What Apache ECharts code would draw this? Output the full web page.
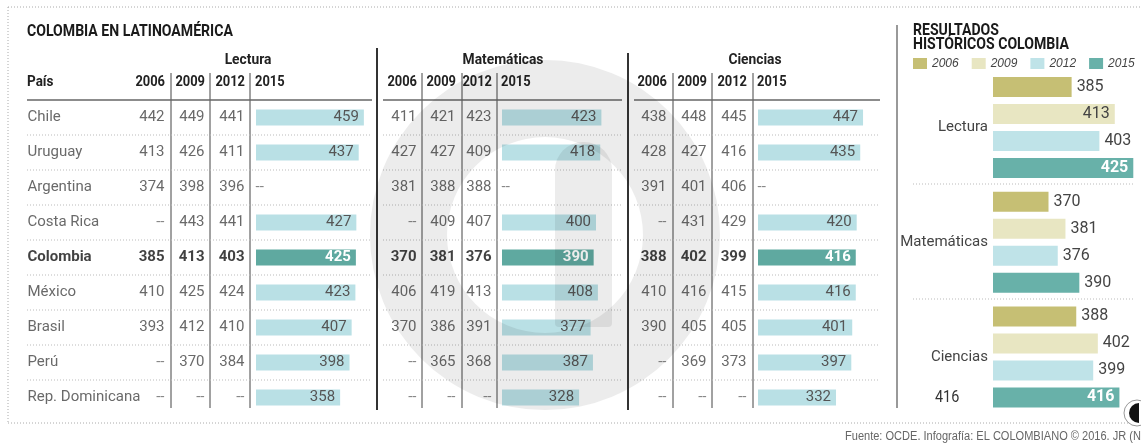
<!DOCTYPE html>
<html>
<head>
<meta charset="utf-8">
<title>Colombia en Latinoamérica - PISA</title>
<script src="https://cdn.jsdelivr.net/npm/echarts@6/dist/echarts.min.js"></script>
<style>
  html, body { margin: 0; padding: 0; background: #fff; }
  #myChart { width: 1141px; height: 443px; }
</style>
</head>
<body>
<div id="myChart"></div>
<script>
// datos de la tabla (-- = sin dato)
var paises = ["Chile", "Uruguay", "Argentina", "Costa Rica", "Colombia", "México", "Brasil", "Perú", "Rep. Dominicana"];
var anios = ["2006", "2009", "2012", "2015"];
var materias = ["Lectura", "Matemáticas", "Ciencias"];

var lectura2006 = [442, 413, 374, null, 385, 410, 393, null, null];
var lectura2009 = [449, 426, 398, 443, 413, 425, 412, 370, null];
var lectura2012 = [441, 411, 396, 441, 403, 424, 410, 384, null];
var lectura2015 = [459, 437, null, 427, 425, 423, 407, 398, 358];

var mate2006 = [411, 427, 381, null, 370, 406, 370, null, null];
var mate2009 = [421, 427, 388, 409, 381, 419, 386, 365, null];
var mate2012 = [423, 409, 388, 407, 376, 413, 391, 368, null];
var mate2015 = [423, 418, null, 400, 390, 408, 377, 387, 328];

var ciencias2006 = [438, 428, 391, null, 388, 410, 390, null, null];
var ciencias2009 = [448, 427, 401, 431, 402, 416, 405, 369, null];
var ciencias2012 = [445, 416, 406, 429, 399, 415, 405, 373, null];
var ciencias2015 = [447, 435, null, 420, 416, 416, 401, 397, 332];

// resultados históricos Colombia (Lectura, Matemáticas, Ciencias)
var colombia2006 = [385, 370, 388];
var colombia2009 = [413, 381, 402];
var colombia2012 = [403, 376, 399];
var colombia2015 = [425, 390, 416];

// estilos y posiciones
var fNarrow = 'Roboto, "Liberation Sans", sans-serif';
var fSans = '"Liberation Sans", Arial, sans-serif';
var coloresAnio = ["#c6bf74", "#e8e6c2", "#bfe3e8", "#68b1a9"];
var colorBarra = "#b9e0e5";
var colorColombia = "#5fa9a0";
var idxCol = paises.indexOf("Colombia");
var tablaTop = 100, filaAlto = 35;

var secciones = [
  { titulo: "Lectura", datos: [lectura2006, lectura2009, lectura2012, lectura2015],
    centro: 248, colDer: [165, 205, 245], divs: [171, 210, 250], barra: 256, x1: 27, x2: 372 },
  { titulo: "Matemáticas", datos: [mate2006, mate2009, mate2012, mate2015],
    centro: 503, colDer: [417, 456, 492], divs: [422, 462, 497], barra: 502, x1: 383, x2: 622 },
  { titulo: "Ciencias", datos: [ciencias2006, ciencias2009, ciencias2012, ciencias2015],
    centro: 755, colDer: [667, 707, 747], divs: [673, 712, 753], barra: 758, x1: 634, x2: 880 }
];

var myChart = echarts.init(document.getElementById("myChart"));

var grids = [{ left: 0, top: tablaTop, width: 1141, height: filaAlto * paises.length }];
var xAxes = [{ gridIndex: 0, type: "value", min: 0, max: 1141, show: false }];
var yAxes = [{ gridIndex: 0, type: "category", data: paises, inverse: true, show: false }];
var series = [];
var graphic = [];

function linea(x1, y1, x2, y2, color, ancho, dash) {
  graphic.push({
    type: "line", silent: true,
    shape: { x1: x1, y1: y1, x2: x2, y2: y2 },
    style: { stroke: color, lineWidth: ancho, lineDash: dash || null }
  });
}
// texto con compresión horizontal (sx) para imitar la letra condensada
function texto(t, x, y, font, color, align, sx) {
  graphic.push({
    type: "text", silent: true, x: x, y: y, scaleX: sx || 1,
    style: { text: t, x: 0, y: 0, font: font, fill: color, align: align || "left", verticalAlign: "middle" }
  });
}
var fTitulo = "bold 16px " + fNarrow;
var fCab = "bold 15px " + fNarrow;

// nombres de países
series.push({
  type: "scatter", xAxisIndex: 0, yAxisIndex: 0, symbolSize: 1, silent: true,
  itemStyle: { color: "transparent" },
  label: { show: true, position: "right", distance: 0, fontFamily: fNarrow, fontSize: 15,
    formatter: function (p) { return p.data.texto; } },
  data: paises.map(function (p, i) {
    return { value: [27, i], texto: p,
      label: { color: i === idxCol ? "#111" : "#444", fontWeight: i === idxCol ? "bold" : "normal" } };
  })
});

secciones.forEach(function (s, n) {
  // columnas 2006, 2009, 2012
  for (var c = 0; c < 3; c++) {
    series.push({
      type: "scatter", xAxisIndex: 0, yAxisIndex: 0, symbolSize: 1, silent: true,
      itemStyle: { color: "transparent" },
      label: { show: true, position: "left", distance: 0, fontFamily: fNarrow, fontSize: 15,
        formatter: function (p) { return p.data.texto; } },
      data: s.datos[c].map(function (v, i) {
        return { value: [s.colDer[c], i], texto: v == null ? "--" : String(v),
          label: { color: i === idxCol ? "#111" : (v == null ? "#666" : "#444"),
            fontWeight: i === idxCol ? "bold" : "normal" } };
      })
    });
  }
  // "--" en 2015
  series.push({
    type: "scatter", xAxisIndex: 0, yAxisIndex: 0, symbolSize: 1, silent: true,
    itemStyle: { color: "transparent" },
    label: { show: true, position: "right", distance: 0, fontFamily: fNarrow, fontSize: 15, color: "#666",
      formatter: "--" },
    data: s.datos[3].map(function (v, i) { return v == null ? [s.barra - 1, i] : null; })
      .filter(function (d) { return d; })
  });
  // barras 2015
  grids.push({ left: s.barra, top: tablaTop, width: 117.5, height: filaAlto * paises.length });
  xAxes.push({ gridIndex: n + 1, type: "value", min: 0, max: 500, show: false });
  yAxes.push({ gridIndex: n + 1, type: "category", data: paises, inverse: true, show: false });
  series.push({
    type: "bar", xAxisIndex: n + 1, yAxisIndex: n + 1, barWidth: 16, silent: true,
    itemStyle: { color: colorBarra },
    label: { show: true, position: "insideRight", distance: 5, fontFamily: fNarrow, fontSize: 15, color: "#555" },
    data: s.datos[3].map(function (v, i) {
      if (i !== idxCol) return v;
      return { value: v, itemStyle: { color: colorColombia }, label: { color: "#fff", fontWeight: "bold" } };
    })
  });

  // cabeceras y líneas
  texto(s.titulo, s.centro, 60, fCab, "#222", "center", 0.92);
  anios.forEach(function (a, k) {
    if (k < 3) texto(a, s.colDer[k], 82, fCab, "#222", "right", 0.86);
    else texto(a, s.barra - 1, 82, fCab, "#222", "left", 0.86);
  });
  s.divs.forEach(function (x) { linea(x, 73, x, 408, "#444", 1); });
  linea(s.x1, tablaTop, s.x2, tablaTop, "#666", 1.5);
  for (var f = 1; f < paises.length; f++) {
    linea(s.x1, tablaTop + f * filaAlto, s.x2, tablaTop + f * filaAlto, "#bbb", 1, [1, 2]);
  }
});

// gráfico de resultados históricos
var colombia = [colombia2006, colombia2009, colombia2012, colombia2015];
grids.push({ left: 993, top: 70.25, width: 150, height: 344 });
xAxes.push({ gridIndex: 4, type: "value", min: 334, max: 430, show: false });
yAxes.push({
  gridIndex: 4, type: "category", data: materias, inverse: true,
  axisLine: { show: false }, axisTick: { show: false },
  axisLabel: { margin: 5, fontFamily: fNarrow, fontSize: 15, color: "#444" }
});
anios.forEach(function (a, k) {
  series.push({
    type: "bar", name: a, xAxisIndex: 4, yAxisIndex: 4, barWidth: 20, barGap: "35%", silent: true,
    itemStyle: { color: coloresAnio[k] },
    label: { show: true, position: "right", distance: 5, fontFamily: fNarrow, fontSize: 16, color: "#444" },
    data: colombia[k].map(function (v) {
      if (v < 410) return v;
      return { value: v, label: { position: "insideRight", color: k === 3 ? "#fff" : "#444",
        fontWeight: k === 3 ? "bold" : "normal" } };
    })
  });
});

// textos generales y marco
texto("COLOMBIA EN LATINOAMÉRICA", 27, 32, fTitulo, "#1a1a1a", "left", 0.88);
texto("País", 27, 82, fCab, "#222", "left", 0.9);
texto("RESULTADOS", 913, 31, fTitulo, "#1a1a1a", "left", 0.88);
texto("HISTÓRICOS COLOMBIA", 913, 45, fTitulo, "#1a1a1a", "left", 0.88);
texto("416", 935, 398, "16px " + fNarrow, "#333", "left", 0.9);
texto("Fuente: OCDE. Infografía: EL COLOMBIANO © 2016. JR (N)", 845, 437, "12px " + fSans, "#666", "left", 0.92);
linea(8, 7, 1141, 7, "#aaa", 1, [1, 2]);
linea(8, 7, 8, 423, "#aaa", 1, [1, 2]);
linea(8, 423, 1141, 423, "#aaa", 1, [1, 2]);
linea(377, 48, 377, 410, "#333", 2);
linea(628, 53, 628, 410, "#333", 2);
linea(897, 25, 897, 408, "#777", 1.5);
linea(913, 184, 1135, 184, "#bbb", 1, [1, 2]);
linea(913, 299, 1135, 299, "#bbb", 1, [1, 2]);

// marca de agua
graphic.push({
  type: "ring", silent: true, z: 50,
  shape: { cx: 545, cy: 235, r: 175, r0: 98 },
  style: { fill: "#ececec", blend: "multiply" }
});
graphic.push({
  type: "rect", silent: true, z: 50,
  shape: { x: 555, y: 142, width: 57, height: 185, r: [28, 28, 4, 4] },
  style: { fill: "#ececec", blend: "multiply" }
});
// logo pequeño
graphic.push({ type: "circle", silent: true, z: 60, shape: { cx: 1137, cy: 413, r: 13 },
  style: { fill: "#fff", stroke: "#999", lineWidth: 1 } });
graphic.push({ type: "sector", silent: true, z: 61,
  shape: { cx: 1139, cy: 413, r: 10, r0: 0, startAngle: Math.PI / 2, endAngle: Math.PI * 1.5 },
  style: { fill: "#111" } });

myChart.setOption({
  animation: false,
  backgroundColor: "#fff",
  legend: {
    data: anios, left: 913, top: 57.5, padding: 0, itemWidth: 14, itemHeight: 11, itemGap: 13,
    icon: "rect", selectedMode: false,
    textStyle: { fontFamily: fSans, fontStyle: "italic", fontSize: 12, color: "#444" }
  },
  grid: grids,
  xAxis: xAxes,
  yAxis: yAxes,
  series: series,
  graphic: graphic
});
</script>
</body>
</html>
